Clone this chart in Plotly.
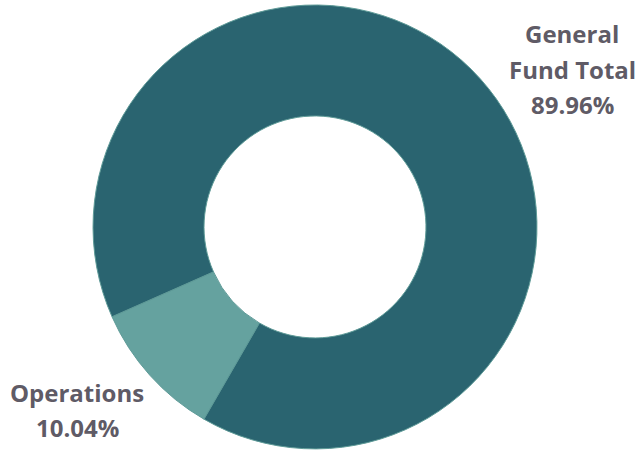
import plotly.graph_objects as go

labels = ["Operations", "General Fund Total"]
values = [10.04, 89.96]
colors = ["#65a29f", "#2a6470"]

# label lines shown next to the ring
label_lines = [["Operations"], ["General", "Fund Total"]]
label_x = [77, 572]
label_y = [[392], [34, 69]]
line_pitch = 35

W, H = 639, 453

fig = go.Figure()
fig.add_trace(
    go.Pie(
        labels=labels,
        values=values,
        hole=0.5,
        sort=False,
        direction="clockwise",
        rotation=-150,
        textinfo="none",
        marker=dict(colors=colors, line=dict(color="#5f9b98", width=1)),
        domain=dict(x=[0.1455, 0.8404], y=[0.009, 0.989]),
        showlegend=False))

for lines, val, px_x, ys in zip(label_lines, values, label_x, label_y):
    rows = lines + ["%.2f%%" % val]
    y0 = ys[0]
    for i, row in enumerate(rows):
        fig.add_annotation(
            x=px_x / W, y=1 - (y0 + i * line_pitch) / H,
            xref="paper", yref="paper",
            xanchor="center", yanchor="middle",
            text="<b>%s</b>" % row,
            showarrow=False,
            font=dict(family="Open Sans", size=24, color="#5f5b66"))

fig.update_layout(
    width=W,
    height=H,
    margin=dict(l=0, r=0, t=0, b=0),
    paper_bgcolor="white",
    plot_bgcolor="white")

fig.write_html("out.html", config={"displayModeBar": False},
               post_script="document.body.style.margin='0px';")
